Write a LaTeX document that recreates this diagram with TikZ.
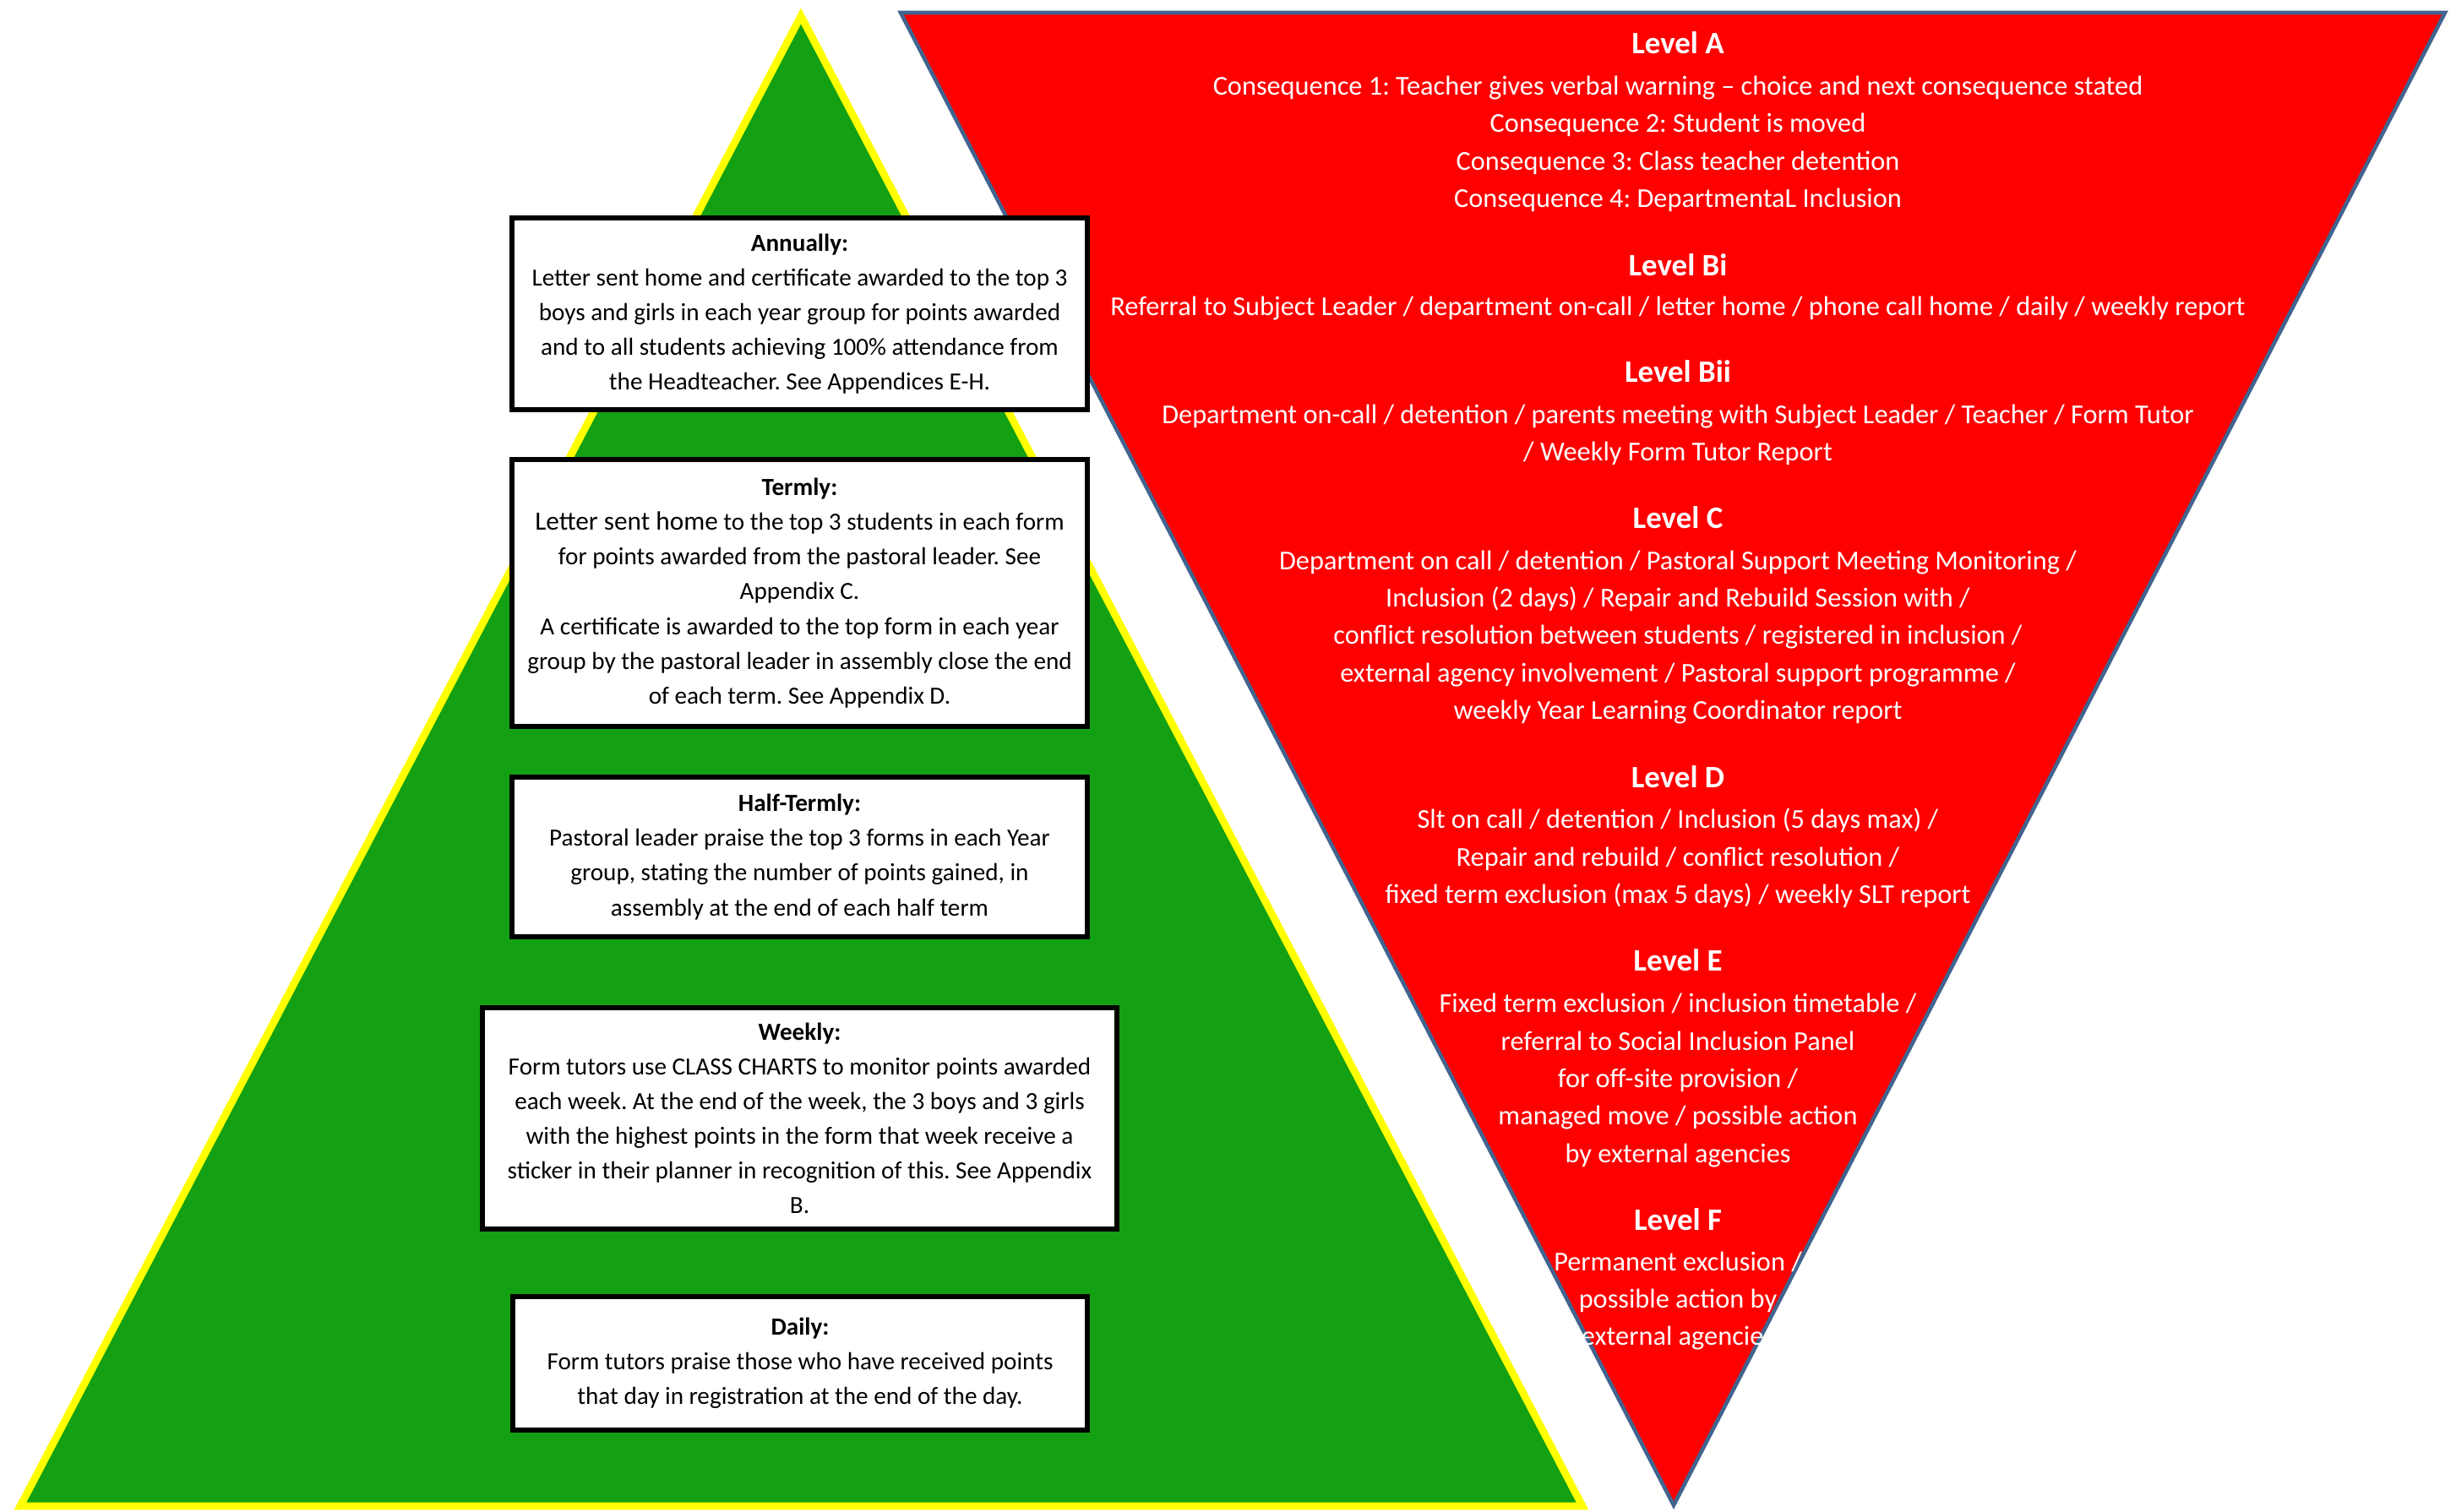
\documentclass[tikz,border=0pt]{standalone}
\usepackage{fontspec}
\setmainfont{Carlito}
\frenchspacing
\definecolor{PyrGreen}{HTML}{13A013}
\definecolor{PyrRed}{HTML}{FF0000}
\definecolor{PyrYellow}{HTML}{FFFF00}
\definecolor{PyrBlue}{HTML}{41648F}
\tikzset{
  prizebox/.style={draw=black, line width=1.5pt, fill=white, align=center,
    inner sep=0pt, font=\fontsize{8.3}{11.7}\selectfont},
  lvlhead/.style={text=white, inner sep=0pt, font=\fontsize{10.5}{12}\selectfont\bfseries},
  lvlbody/.style={text=white, align=center, inner sep=0pt,
    font=\fontsize{9.2}{12.65}\selectfont},
}
\begin{document}
\begin{tikzpicture}
  \useasboundingbox (0,0) rectangle (29.07,-17.89);
  % Reward pyramid
  \draw[PyrYellow, line width=2.5pt, fill=PyrGreen]
    (9.48,-0.19) -- (18.73,-17.83) -- (0.24,-17.83) -- cycle;
  % Sanctions funnel
  \draw[PyrBlue, line width=1.3pt, fill=PyrRed]
    (10.66,-0.15) -- (28.94,-0.15) -- (19.81,-17.82) -- cycle;
  % Reward boxes
  \node[prizebox, minimum width=6.81cm, minimum height=2.27cm] (annual) at (9.465,-3.715)
    {\textbf{Annually:}\\
     Letter sent home and certificate awarded to the top 3\\
     boys and girls in each year group for points awarded\\
     and to all students achieving 100\% attendance from\\
     the Headteacher. See Appendices E-H.};
  \node[prizebox, minimum width=6.81cm, minimum height=3.16cm] (termly) at (9.465,-7.02)
    {\textbf{Termly:}\\
     {\fontsize{8.9}{11.7}\selectfont Letter sent home} to the top 3 students in each form\\
     for points awarded from the pastoral leader. See\\
     Appendix C.\\
     A certificate is awarded to the top form in each year\\
     group by the pastoral leader in assembly close the end\\
     of each term. See Appendix D.};
  \node[prizebox, minimum width=6.81cm, minimum height=1.89cm] (halfterm) at (9.465,-10.145)
    {\textbf{Half-Termly:}\\
     Pastoral leader praise the top 3 forms in each Year\\
     group, stating the number of points gained, in\\
     assembly at the end of each half term};
  \node[prizebox, minimum width=7.51cm, minimum height=2.62cm] (weekly) at (9.465,-13.24)
    {\textbf{Weekly:}\\
     Form tutors use CLASS CHARTS to monitor points awarded\\
     each week. At the end of the week, the 3 boys and 3 girls\\
     with the highest points in the form that week receive a\\
     sticker in their planner in recognition of this. See Appendix\\
     B.};
  \node[prizebox, minimum width=6.80cm, minimum height=1.58cm] (daily) at (9.47,-16.14)
    {\textbf{Daily:}\\
     Form tutors praise those who have received points\\
     that day in registration at the end of the day.};
  % Sanction levels
  \node[lvlhead] (levA) at (19.86,-0.51) {Level A};
  \node[lvlbody] (levAtxt) at (19.86,-1.705)
    {Consequence 1: Teacher gives verbal warning -- choice and next consequence stated\\
     Consequence 2: Student is moved\\
     Consequence 3: Class teacher detention\\
     Consequence 4: DepartmentaL Inclusion};
  \node[lvlhead] (levBi) at (19.86,-3.14) {Level Bi};
  \node[lvlbody] (levBitxt) at (19.86,-3.655)
    {Referral to Subject Leader / department on-call / letter home / phone call home / daily / weekly report};
  \node[lvlhead] (levBii) at (19.86,-4.40) {Level Bii};
  \node[lvlbody] (levBiitxt) at (19.86,-5.15)
    {Department on-call / detention / parents meeting with Subject Leader / Teacher / Form Tutor\\
     / Weekly Form Tutor Report};
  \node[lvlhead] (levC) at (19.86,-6.13) {Level C};
  \node[lvlbody] (levCtxt) at (19.86,-7.545)
    {Department on call / detention / Pastoral Support Meeting Monitoring /\\
     Inclusion (2 days) / Repair and Rebuild Session with /\\
     conflict resolution between students / registered in inclusion /\\
     external agency involvement / Pastoral support programme /\\
     weekly Year Learning Coordinator report};
  \node[lvlhead] (levD) at (19.86,-9.20) {Level D};
  \node[lvlbody] (levDtxt) at (19.86,-10.16)
    {Slt on call / detention / Inclusion (5 days max) /\\
     Repair and rebuild / conflict resolution /\\
     fixed term exclusion (max 5 days) / weekly SLT report};
  \node[lvlhead] (levE) at (19.86,-11.37) {Level E};
  \node[lvlbody] (levEtxt) at (19.86,-12.79)
    {Fixed term exclusion / inclusion timetable /\\
     referral to Social Inclusion Panel\\
     for off-site provision /\\
     managed move / possible action\\
     by external agencies};
  \node[lvlhead] (levF) at (19.86,-14.44) {Level F};
  \node[lvlbody] (levFtxt) at (19.86,-15.40)
    {Permanent exclusion /\\
     possible action by\\
     external agencies};
\end{tikzpicture}
\end{document}
